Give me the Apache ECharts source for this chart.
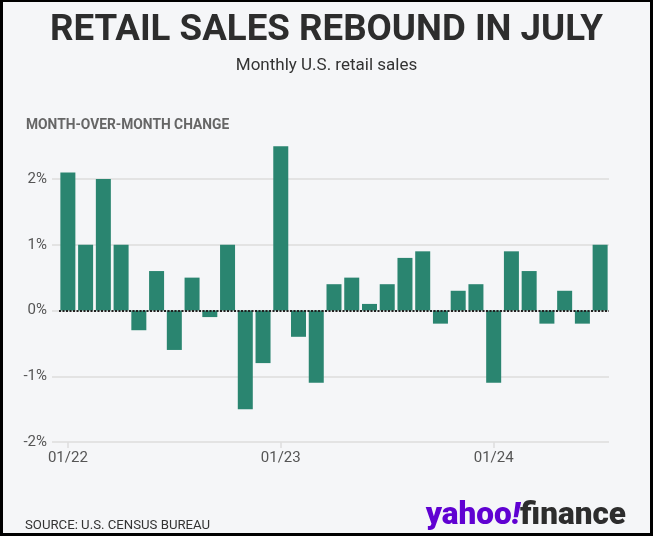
<!DOCTYPE html>
<html>
<head>
<meta charset="utf-8">
<script src="https://cdn.jsdelivr.net/npm/echarts@6/dist/echarts.min.js"></script>
<style>
html,body{margin:0;padding:0;background:#000;}
#bg{position:absolute;left:3px;top:2px;width:647px;height:531px;background:#f5f6f8;}
#chart{position:absolute;left:0;top:0;width:653px;height:536px;}
</style>
</head>
<body>
<div id="bg"></div>
<div id="chart"></div>
<script>
const months = ['01/22','02/22','03/22','04/22','05/22','06/22','07/22','08/22','09/22','10/22','11/22','12/22',
  '01/23','02/23','03/23','04/23','05/23','06/23','07/23','08/23','09/23','10/23','11/23','12/23',
  '01/24','02/24','03/24','04/24','05/24','06/24','07/24'];
const changes = [2.1,1.0,2.0,1.0,-0.3,0.6,-0.6,0.5,-0.1,1.0,-1.5,-0.8,
  2.5,-0.4,-1.1,0.4,0.5,0.1,0.4,0.8,0.9,-0.2,0.3,0.4,
  -1.1,0.9,0.6,-0.2,0.3,-0.2,1.0];
const yTicks = [-2,-1,0,1,2];

const chart = echarts.init(document.getElementById('chart'), null, {renderer:'canvas'});
const F = 'Roboto, "Liberation Sans", sans-serif';
chart.setOption({
  backgroundColor: 'transparent',
  animation: false,
  title: [
    {text:'RETAIL SALES REBOUND IN JULY', left:'center', top:7,
     textStyle:{fontFamily:F, fontWeight:'bold', fontSize:36.7, color:'#2d2d2d'}},
    {text:'Monthly U.S. retail sales', left:'center', top:52,
     textStyle:{fontFamily:F, fontWeight:'normal', fontSize:17, color:'#333'}},
    {text:'MONTH-OVER-MONTH CHANGE', left:21, top:114,
     textStyle:{fontFamily:F, fontWeight:'bold', fontSize:13.8, color:'#666'}},
    {text:'SOURCE: U.S. CENSUS BUREAU', left:20, top:514,
     textStyle:{fontFamily:F, fontWeight:'normal', fontSize:13.2, color:'#333'}},
    {text:'{y|yahoo}{e|!}{f|finance}', right:22, top:495,
     textStyle:{rich:{
       y:{fontFamily:F, fontWeight:900, fontSize:31.5, color:'#6001d2'},
       e:{fontFamily:F, fontWeight:900, fontStyle:'italic', fontSize:31.5, color:'#6001d2'},
       f:{fontFamily:F, fontWeight:900, fontSize:31.5, color:'#2d2d2d'}
     }}}
  ],
  grid: [
    {left:52, right:44, top:179, bottom:94},
    {left:59, right:44, top:179, bottom:94}
  ],
  xAxis: [
    {gridIndex:0, type:'value', show:false, min:0, max:1},
    {gridIndex:1, type:'category', data:months, boundaryGap:true,
     axisLine:{show:false, onZero:false},
     axisTick:{show:true, alignWithLabel:true, interval:(i)=>i%12===0, length:6, lineStyle:{color:'#ddd', width:1.5}},
     axisLabel:{interval:(i)=>i%12===0, fontFamily:F, fontSize:15, color:'#555', margin:9}}
  ],
  yAxis: [
    {gridIndex:0, type:'value', min:yTicks[0], max:yTicks[yTicks.length-1], interval:1,
     axisLine:{show:false}, axisTick:{show:false},
     splitLine:{show:true, lineStyle:{color:'#dcdcdc', width:1.5}},
     axisLabel:{fontFamily:F, fontSize:15, color:'#555', margin:5, formatter:(v)=>v+'%'}},
    {gridIndex:1, type:'value', min:yTicks[0], max:yTicks[yTicks.length-1], interval:1, show:false,
     splitLine:{show:false}}
  ],
  series: [{
    type:'bar', xAxisIndex:1, yAxisIndex:1, data:changes, clip:false,
    barWidth:15, itemStyle:{color:'#2a8570'},
    markLine:{silent:true, symbol:'none', label:{show:false},
      lineStyle:{color:'#222', width:2, type:[2,1.5]},
      data:[{yAxis:0}]}
  }]
});
</script>
</body>
</html>
